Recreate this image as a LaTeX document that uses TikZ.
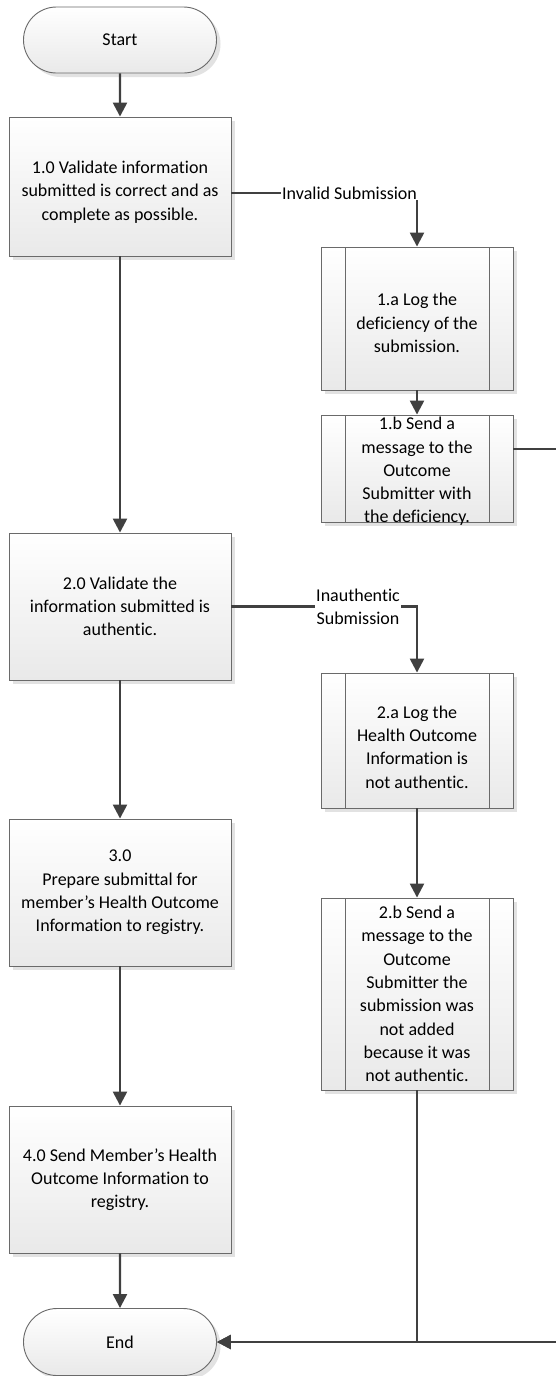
\documentclass[tikz,border=0pt]{standalone}
\usepackage{fontspec}
\setmainfont{Carlito}[Ligatures={NoCommon,NoContextual}]
\usetikzlibrary{shapes.misc,arrows.meta,shadows}

\definecolor{linec}{HTML}{404040}
\definecolor{boxline}{HTML}{6A6A6A}
\definecolor{boxbottom}{HTML}{E9E9E9}
\definecolor{shadowc}{HTML}{E2E2E2}

\begin{document}
\begin{tikzpicture}[x=1pt,y=-1pt,
  base/.style={draw=boxline, line width=0.9pt, top color=white, bottom color=boxbottom,
    drop shadow={shadow xshift=4pt, shadow yshift=-4pt, fill=shadowc, opacity=1},
    align=center, inner sep=0pt, font=\fontsize{18}{23.3}\selectfont},
  procbox/.style={base, rectangle, minimum width=222pt},
  subbox/.style={base, rectangle, minimum width=192pt,
    path picture={\draw[boxline, line width=0.9pt]
      ([xshift=24pt]path picture bounding box.north west) -- ([xshift=24pt]path picture bounding box.south west)
      ([xshift=-24pt]path picture bounding box.north east) -- ([xshift=-24pt]path picture bounding box.south east);}},
  term/.style={base, rounded rectangle, minimum width=193pt, minimum height=66pt},
  boxtext/.style={align=center, inner sep=0pt, font=\fontsize{18}{23.3}\selectfont},
  flowline/.style={draw=linec, line width=2.4pt},
  arrow/.style={flowline, -{Triangle[length=14pt,width=14pt]}},
  lbl/.style={fill=white, inner sep=1pt, align=center, font=\fontsize{18}{23.3}\selectfont}
]
\fill[white] (0,0) rectangle (556,1376);
\useasboundingbox (0,0) rectangle (556,1376);

% main column
\node[term] (start) at (120,40) {Start};
\node[procbox, minimum height=139pt] (p1) at (120,186.5) {};
\node[boxtext] (p1t) at (120,192)
  {1.0 Validate information\\submitted is correct and as\\complete as possible.};
\node[procbox, minimum height=147pt] (p2) at (120,606.5)
  {2.0 Validate the\\information submitted is\\authentic.};
\node[procbox, minimum height=147pt] (p3) at (120,892.5)
  {3.0\\Prepare submittal for\\member’s Health Outcome\\Information to registry.};
\node[procbox, minimum height=147pt] (p4) at (120,1179.5)
  {4.0 Send Member’s Health\\Outcome Information to\\registry.};
\node[term, minimum height=67pt] (stop) at (120,1342) {End};

% exception column
\node[subbox, minimum height=143pt] (s1a) at (417,318.5) {};
\node[boxtext] (s1at) at (417,323)
  {1.a Log the\\deficiency of the\\submission.};
\node[subbox, minimum height=107pt] (s1b) at (417,468.5) {};
\node[boxtext] (s1bt) at (417,471.5)
  {1.b Send a\\message to the\\Outcome\\Submitter with\\the deficiency.};
\node[subbox, minimum height=135pt] (s2a) at (417,740.5) {};
\node[boxtext] (s2at) at (417,747)
  {2.a Log the\\Health Outcome\\Information is\\not authentic.};
\node[subbox, minimum height=192pt] (s2b) at (417,994)
  {2.b Send a\\message to the\\Outcome\\Submitter the\\submission was\\not added\\because it was\\not authentic.};

% anchor points of the branch labels and the off-page return route
\coordinate (linvpos) at (281,193);
\coordinate (linauthpos) at (358,606.5);
\coordinate (rt) at (600,449);

% connectors
\draw[arrow] (start) -- (p1);
\draw[arrow] (p1) -- (p2);
\draw[arrow] (p2) -- (p3);
\draw[arrow] (p3) -- (p4);
\draw[arrow] (p4) -- (stop);
\draw[arrow] (p1.east |- linvpos) -| (s1a.north);
\draw[arrow] (s1a) -- (s1b);
\draw[arrow] (p2.east) -| (s2a.north);
\draw[arrow] (s2a) -- (s2b);
\draw[arrow] (s2b.south) |- (stop.east);
\draw[arrow] (s1b.east |- rt) -- (rt) |- (stop.east);

% branch labels sit on top of their connectors
\node[lbl, anchor=west] (linv) at (linvpos) {Invalid Submission};
\node[lbl] (linauth) at (linauthpos) {Inauthentic\\Submission};
\end{tikzpicture}
\end{document}
